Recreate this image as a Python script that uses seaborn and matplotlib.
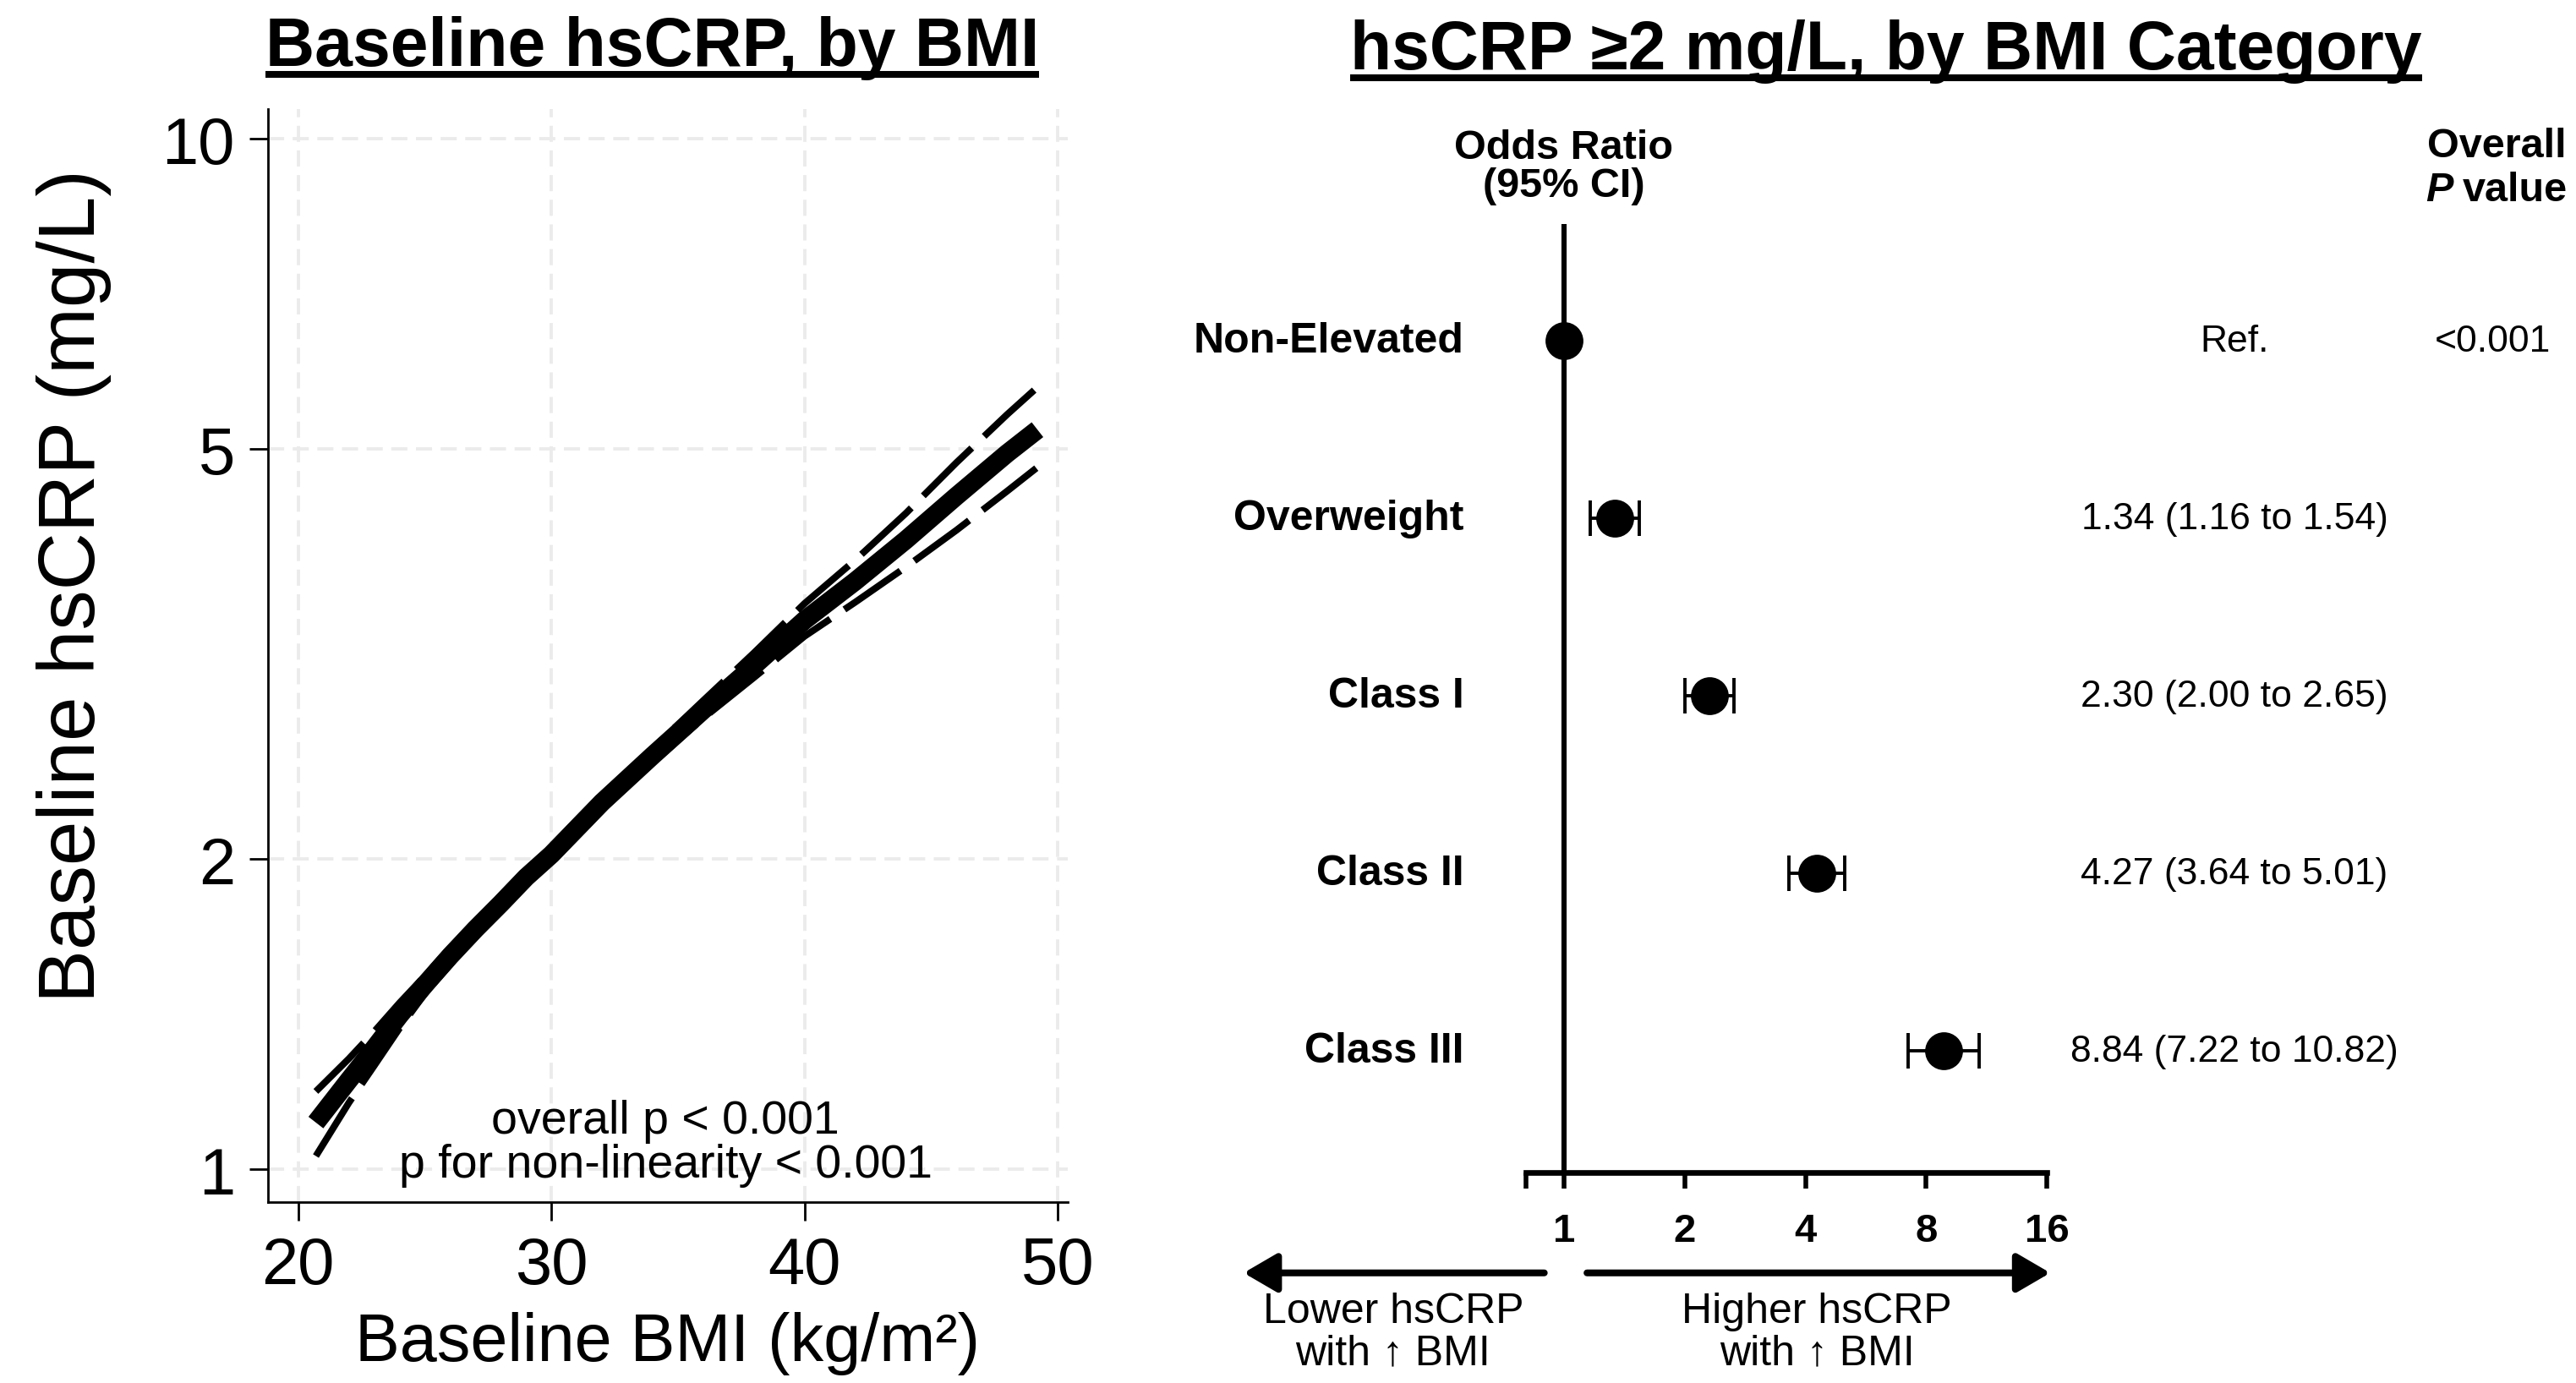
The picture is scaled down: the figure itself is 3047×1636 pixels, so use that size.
import matplotlib
matplotlib.use('Agg')
import numpy as np
import pandas as pd
import seaborn as sns
import matplotlib.pyplot as plt
from matplotlib import font_manager
from matplotlib.lines import Line2D

# Left panel: spline of baseline hsCRP by BMI
bmi = [20.7, 22, 23, 24, 25, 26, 27, 28, 29, 30, 32, 34, 36, 38, 40, 42, 44, 46, 48, 49.2]
crp = [1.11, 1.22, 1.31, 1.41, 1.51, 1.61, 1.71, 1.81, 1.92, 2.02, 2.27, 2.52, 2.79, 3.08, 3.41, 3.72, 4.08, 4.50, 4.95, 5.22]
crp_lo = [1.03, 1.16, 1.26, 1.37, 1.48, 1.58, 1.69, 1.79, 1.90, 2.00, 2.24, 2.48, 2.74, 3.00, 3.29, 3.55, 3.84, 4.17, 4.55, 4.80]
crp_hi = [1.19, 1.28, 1.36, 1.45, 1.54, 1.64, 1.73, 1.83, 1.94, 2.04, 2.30, 2.56, 2.85, 3.17, 3.54, 3.90, 4.33, 4.85, 5.40, 5.74]
x_ticks = [20, 30, 40, 50]
y_ticks = [1, 2, 5, 10]

# Right panel: odds ratios for hsCRP >= 2 mg/L by BMI category
categories = ['Non-Elevated', 'Overweight', 'Class I', 'Class II', 'Class III']
odds = [1.00, 1.34, 2.30, 4.27, 8.84]
ci_lo = [1.00, 1.16, 2.00, 3.64, 7.22]
ci_hi = [1.00, 1.54, 2.65, 5.01, 10.82]
ci_text = ['Ref.', '1.34 (1.16 to 1.54)', '2.30 (2.00 to 2.65)', '4.27 (3.64 to 5.01)', '8.84 (7.22 to 10.82)']
p_text = ['<0.001', '', '', '', '']
or_ticks = [1, 2, 4, 8, 16]

df_spline = pd.DataFrame({'bmi': bmi, 'crp': crp, 'lo': crp_lo, 'hi': crp_hi})
df_or = pd.DataFrame({'cat': categories, 'row': range(len(categories)), 'odds': odds,
                      'lo': ci_lo, 'hi': ci_hi})

sns.set_style('white')
names = {f.name for f in font_manager.fontManager.ttflist}
narrow = 'Liberation Sans Narrow' if 'Liberation Sans Narrow' in names else 'Liberation Sans'
plt.rcParams['font.family'] = [narrow, 'DejaVu Sans']
for key in ['text.color', 'axes.labelcolor', 'xtick.color', 'ytick.color']:
    plt.rcParams[key] = 'black'
plain = ['Liberation Sans', 'DejaVu Sans']

W, H = 1568, 842  # layout measured on the shrunk reference


def fx(px):
    return px / W


def fy(py):
    return 1 - py / H


fig = plt.figure(figsize=(15.235, 8.1849), dpi=200)

# ---------------- left panel ----------------
ax1 = fig.add_axes([fx(163), fy(732), fx(650) - fx(163), fy(67) - fy(732)])
ax1.set_yscale('log')
sns.lineplot(data=df_spline, x='bmi', y='hi', ax=ax1, color='black', lw=2.9,
             linestyle=(0, (10, 2.5)), zorder=2)
sns.lineplot(data=df_spline, x='bmi', y='lo', ax=ax1, color='black', lw=2.9,
             linestyle=(0, (10, 2.5)), zorder=2)
sns.lineplot(data=df_spline, x='bmi', y='crp', ax=ax1, color='black', lw=8,
             solid_capstyle='butt', zorder=3)
ax1.set_xlim(18.8, 50.4)
ax1.set_ylim(0.929, 10.68)
ax1.set_xticks(x_ticks)
ax1.set_yticks(y_ticks)
ax1.set_yticklabels([str(v) for v in y_ticks])
ax1.yaxis.set_minor_locator(matplotlib.ticker.NullLocator())
ax1.tick_params(axis='both', which='major', direction='out', length=8, width=1,
                labelsize=28, color='black', pad=6, left=True, bottom=True)
ax1.grid(True, color='#ebebeb', lw=1.4, ls=(0, (4.9, 2.6)))
for s in ['top', 'right']:
    ax1.spines[s].set_visible(False)
for s in ['left', 'bottom']:
    ax1.spines[s].set_color('black')
    ax1.spines[s].set_linewidth(1)
ax1.set_xlabel('Baseline BMI (kg/m²)', fontsize=28.5, labelpad=6)
ax1.set_ylabel('Baseline hsCRP (mg/L)', fontsize=34)
ax1.yaxis.set_label_coords(-0.195, 0.565)
ax1.text(0.497, 0.054, 'overall p < 0.001\np for non-linearity < 0.001', transform=ax1.transAxes,
         ha='center', va='center', fontsize=20, linespacing=1.0)

# ---------------- right panel ----------------
ax2 = fig.add_axes([fx(929), fy(714), fx(1246) - fx(929), fy(137) - fy(714)])
ax2.set_xscale('log', base=2)
ax2.set_xlim(0.805, 16)
ax2.set_ylim(4.685, -0.657)
ax2.axvline(1, color='black', lw=2.2, zorder=1)
sub = df_or.iloc[1:]
ax2.errorbar(sub['odds'], sub['row'], xerr=[sub['odds'] - sub['lo'], sub['hi'] - sub['odds']],
             fmt='none', ecolor='black', elinewidth=1.4, capsize=7.7, capthick=1.4, zorder=2)
sns.scatterplot(data=df_or, x='odds', y='row', ax=ax2, color='black', s=260,
                edgecolor='black', linewidth=0, zorder=3, legend=False)
ax2.set_xticks([0.805] + or_ticks)
ax2.set_xticklabels([''] + [str(v) for v in or_ticks], fontweight='bold', fontsize=17)
ax2.xaxis.set_minor_locator(matplotlib.ticker.NullLocator())
ax2.set_yticks([])
ax2.set_xlabel('')
ax2.set_ylabel('')
for s in ['top', 'right', 'left']:
    ax2.spines[s].set_visible(False)
ax2.spines['bottom'].set_linewidth(2.4)
ax2.spines['bottom'].set_color('black')
ax2.tick_params(axis='x', direction='out', length=7, width=2, color='black', pad=10, bottom=True)

ytr = ax2.get_yaxis_transform()
for i, cat in enumerate(categories):
    ax2.text(-0.12, i, cat, transform=ytr, ha='right', va='center', fontsize=18, fontweight='bold')
    ax2.text(1.36, i, ci_text[i], transform=ytr, ha='center', va='center', fontsize=16,
             family=plain, clip_on=False)
    if p_text[i]:
        ax2.text(1.855, i, p_text[i], transform=ytr, ha='center', va='center', fontsize=16,
                 family=plain, clip_on=False)

fig.text(fx(952), fy(102), 'Odds Ratio\n(95% CI)', ha='center', va='center', fontsize=17.5,
         fontweight='bold', linespacing=1.0)
fig.text(fx(1520), fy(89), 'Overall', ha='center', va='center', fontsize=17.5, fontweight='bold')
fig.text(fx(1493), fy(116), 'P', ha='right', va='center', fontsize=17.5, fontweight='bold', style='italic')
fig.text(fx(1499), fy(116), 'value', ha='left', va='center', fontsize=17.5, fontweight='bold')

# direction arrows under the axis
arrow_kw = dict(arrowstyle='-|>,head_length=0.6,head_width=0.35', color='black', lw=2.9,
                mutation_scale=20, shrinkA=0, shrinkB=0)
fig.add_artist(matplotlib.patches.FancyArrowPatch((fx(940), fy(775)), (fx(757), fy(775)),
                                                  transform=fig.transFigure, **arrow_kw))
fig.add_artist(matplotlib.patches.FancyArrowPatch((fx(966), fy(775)), (fx(1248), fy(775)),
                                                  transform=fig.transFigure, **arrow_kw))
fig.text(fx(848), fy(811), 'Lower hsCRP\nwith ↑ BMI', ha='center', va='center', fontsize=18,
         linespacing=1.1)
fig.text(fx(1106), fy(811), 'Higher hsCRP\nwith ↑ BMI', ha='center', va='center', fontsize=18,
         linespacing=1.1)

# ---------------- titles with underline ----------------
t1 = fig.text(fx(397), fy(40), 'Baseline hsCRP, by BMI', ha='center', va='baseline',
              fontsize=29, fontweight='bold')
t2 = fig.text(fx(1148), fy(42), 'hsCRP ≥2 mg/L, by BMI Category', ha='center', va='baseline',
              fontsize=29, fontweight='bold')
fig.canvas.draw()
inv = fig.transFigure.inverted()
for t, uy in [(t1, 46), (t2, 48)]:
    bb = t.get_window_extent(renderer=fig.canvas.get_renderer())
    (x0, _), (x1, _) = inv.transform([(bb.x0, bb.y0), (bb.x1, bb.y1)])
    fig.add_artist(Line2D([x0, x1], [fy(uy), fy(uy)], transform=fig.transFigure,
                          color='black', lw=2.9, solid_capstyle='butt'))

fig.savefig('out.png', dpi=200, facecolor='white')
